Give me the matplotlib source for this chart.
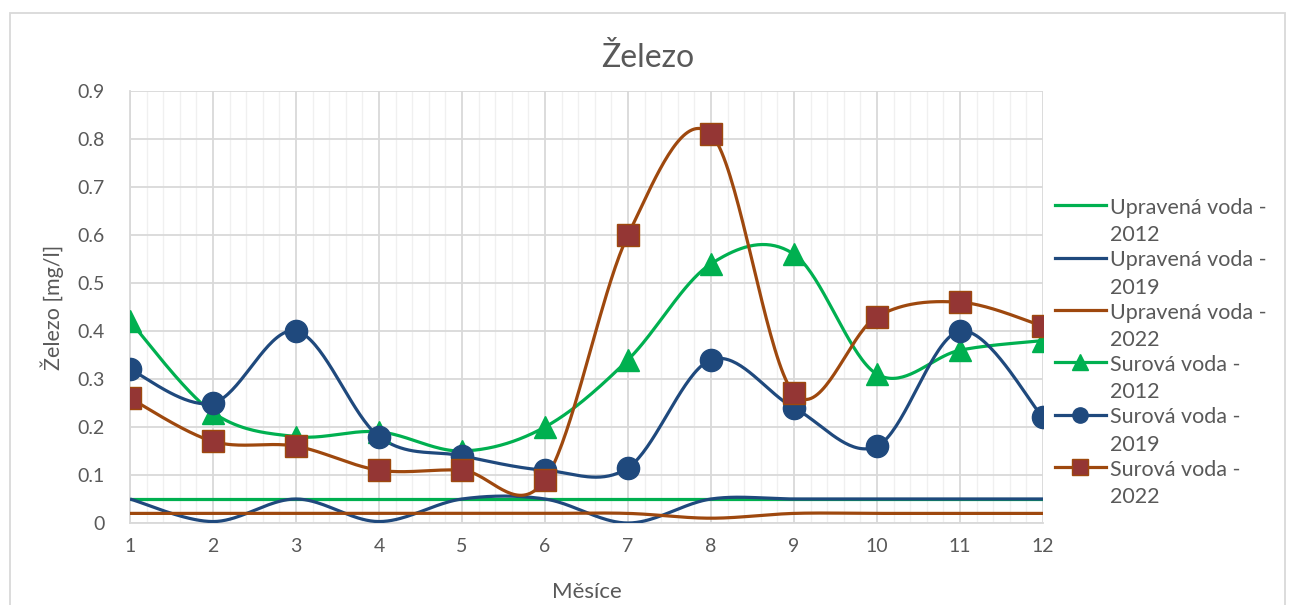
import numpy as np
import matplotlib
matplotlib.use("Agg")
import matplotlib.pyplot as plt
from matplotlib.legend_handler import HandlerLine2D
from matplotlib.patches import Rectangle
from matplotlib.ticker import MultipleLocator

months = [1, 2, 3, 4, 5, 6, 7, 8, 9, 10, 11, 12]
upravena_2012 = [0.05, 0.05, 0.05, 0.05, 0.05, 0.05, 0.05, 0.05, 0.05, 0.05, 0.05, 0.05]
upravena_2019 = [0.05, 0.003, 0.05, 0.003, 0.05, 0.05, 0.0, 0.05, 0.05, 0.05, 0.05, 0.05]
upravena_2022 = [0.02, 0.02, 0.02, 0.02, 0.02, 0.02, 0.02, 0.01, 0.02, 0.02, 0.02, 0.02]
surova_2012 = [0.42, 0.23, 0.18, 0.19, 0.15, 0.20, 0.34, 0.54, 0.56, 0.31, 0.36, 0.38]
surova_2019 = [0.32, 0.25, 0.40, 0.18, 0.14, 0.11, 0.115, 0.34, 0.24, 0.16, 0.40, 0.22]
surova_2022 = [0.26, 0.17, 0.16, 0.11, 0.11, 0.09, 0.60, 0.81, 0.27, 0.43, 0.46, 0.41]
labels = ["Upravená voda -\n2012", "Upravená voda -\n2019", "Upravená voda -\n2022",
          "Surová voda -\n2012", "Surová voda -\n2019", "Surová voda -\n2022"]

GREEN = "#00B050"
BLUE = "#1F497D"
BROWN = "#9E480E"
SQFILL = "#943634"
TXT = "#595959"

plt.rcParams['font.family'] = ['Lato', 'DejaVu Sans']


def smooth(xs, ys, n=40):
    """Excel-like smoothed line (Catmull-Rom as cubic Bezier)."""
    P = np.column_stack([xs, ys]).astype(float)
    Pp = np.vstack([P[0], P, P[-1]])
    out = [P[0:1]]
    t = np.linspace(0, 1, n)[1:, None]
    for i in range(len(P) - 1):
        p0, p1, p2, p3 = Pp[i], Pp[i + 1], Pp[i + 2], Pp[i + 3]
        c1 = p1 + (p2 - p0) / 6.0
        c2 = p2 - (p3 - p1) / 6.0
        seg = ((1 - t) ** 3) * p1 + 3 * ((1 - t) ** 2) * t * c1 + 3 * (1 - t) * t ** 2 * c2 + t ** 3 * p2
        out.append(seg)
    A = np.vstack(out)
    return A[:, 0], A[:, 1]


fig = plt.figure(figsize=(12.94, 6.05), dpi=100)
ax = fig.add_axes([130 / 1294, 1 - 523 / 605, (1043 - 130) / 1294, (523 - 91) / 605])

lw = 2.3
series = [
    (upravena_2012, GREEN, None, GREEN, GREEN),
    (upravena_2019, BLUE, None, BLUE, BLUE),
    (upravena_2022, BROWN, None, BROWN, BROWN),
    (surova_2012, GREEN, '^', GREEN, GREEN),
    (surova_2019, BLUE, 'o', BLUE, BLUE),
    (surova_2022, BROWN, 's', SQFILL, BROWN),
]
handles = []
for i, (vals, col, mk, mfc, mec) in enumerate(series):
    sx, sy = smooth(months, vals)
    ax.plot(sx, sy, color=col, lw=lw, zorder=3 + i * 0.1, solid_capstyle='butt')
    if mk is not None:
        ax.plot(months, vals, linestyle='none', marker=mk, ms=16, mfc=mfc, mec=mec,
                mew=1.0, zorder=4 + i * 0.1)
    h, = ax.plot([], [], color=col, lw=lw, marker=mk if mk else None, ms=11,
                 mfc=mfc, mec=mec, mew=1.0)
    handles.append(h)

ax.set_xlim(1, 12)
ax.set_ylim(0, 0.9)
ax.xaxis.set_major_locator(MultipleLocator(1))
ax.xaxis.set_minor_locator(MultipleLocator(0.2))
ax.yaxis.set_major_locator(MultipleLocator(0.1))
ax.grid(which='major', axis='both', color='#D9D9D9', lw=1.3, zorder=0)
ax.grid(which='minor', axis='x', color='#F0F0F0', lw=1.0, zorder=0)
ax.set_axisbelow(True)
for s in ['top', 'right']:
    ax.spines[s].set_visible(False)
for s in ['left', 'bottom']:
    ax.spines[s].set_color('#D9D9D9')
    ax.spines[s].set_linewidth(1.3)
ax.tick_params(which='both', length=0, labelsize=14, colors=TXT)
ax.tick_params(axis='x', pad=11)
ax.tick_params(axis='y', pad=18)
ax.yaxis.set_major_formatter(matplotlib.ticker.FuncFormatter(lambda v, p: '0' if abs(v) < 1e-9 else f'{v:.1f}'))
ax.set_xticks(months)
ax.set_xticklabels([str(m) for m in months])

fig.text(648 / 1294, 1 - 58 / 605, 'Železo', fontsize=23, color=TXT, ha='center', va='center')
ax.set_xlabel('Měsíce', fontsize=16, color=TXT, labelpad=19.5)
ax.set_ylabel('Železo [mg/l]', fontsize=15.5, color=TXT, labelpad=10)


class ShiftHandler(HandlerLine2D):
    def create_artists(self, legend, orig_handle, xdescent, ydescent, width, height, fontsize, trans):
        arts = super().create_artists(legend, orig_handle, xdescent, ydescent, width, height, fontsize, trans)
        for a in arts:
            a.set_ydata(np.asarray(a.get_ydata(), dtype=float) + 0.78 * fontsize)
        return arts


leg = fig.legend(handles, labels, loc='upper left', bbox_to_anchor=(1055 / 1294, 1 - 198 / 605),
                 frameon=False, fontsize=15.5, labelcolor=TXT, numpoints=1, borderaxespad=0,
                 handlelength=2.35, handletextpad=0.2, labelspacing=0.24, borderpad=0,
                 handler_map={h: ShiftHandler() for h in handles})
for t in leg.get_texts():
    t.set_linespacing(1.45)

fig.patches.append(Rectangle((10 / 1294, -0.05), (1285 - 10) / 1294, 1.05 - 13 / 605,
                             transform=fig.transFigure, fill=False, edgecolor='#D9D9D9', lw=1.3))

fig.savefig('out.png', dpi=100, facecolor='white')
